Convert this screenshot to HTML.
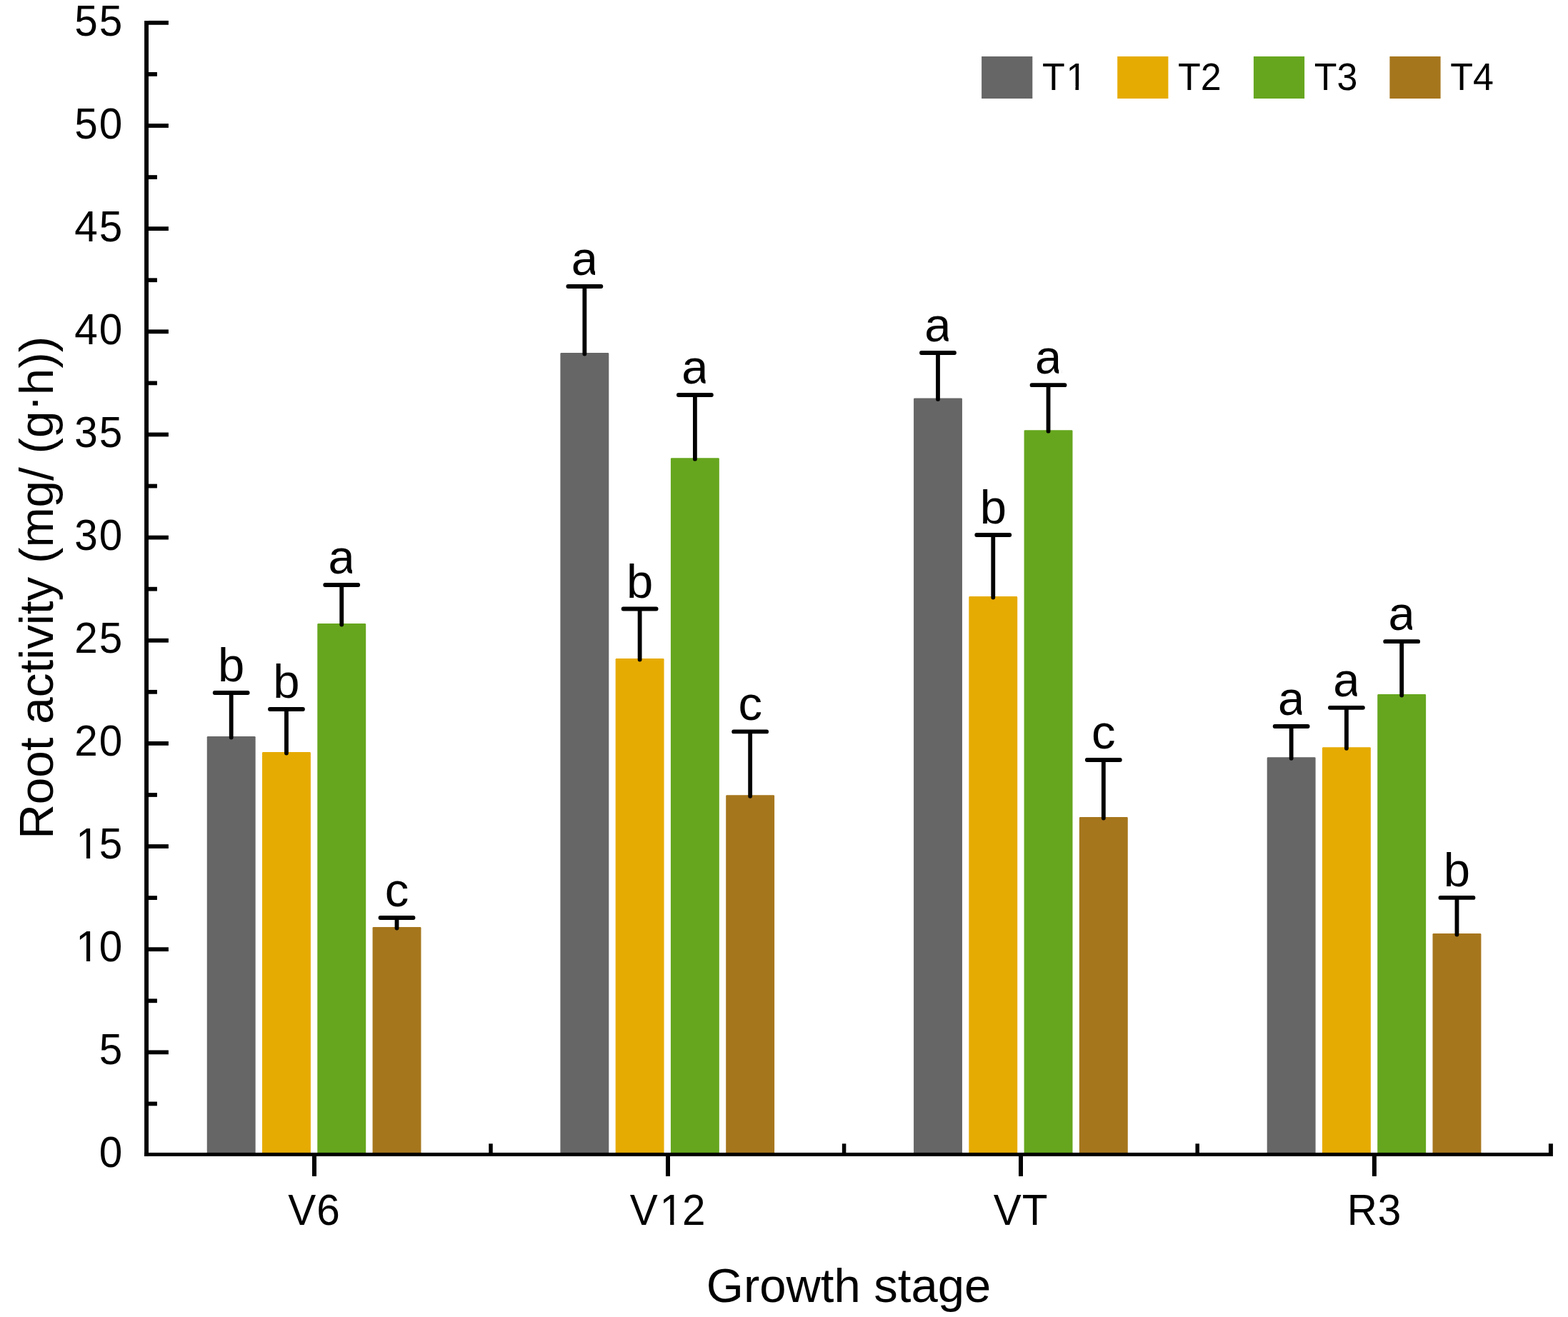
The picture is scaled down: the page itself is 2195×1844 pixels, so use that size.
<!DOCTYPE html>
<html><head><meta charset="utf-8"><title>Root activity by growth stage</title>
<style>
html,body{margin:0;padding:0;background:#fff;}
body{width:2195px;height:1844px;overflow:hidden;}
svg{display:block;}
</style></head><body>
<svg width="2195" height="1844" viewBox="0 0 2195 1844">
<rect x="0" y="0" width="2195" height="1844" fill="#fff"/>
<rect x="289.75" y="1031.00" width="67.9" height="585.90" rx="1.3" fill="#666666"/>
<rect x="367.02" y="1053.10" width="67.9" height="563.80" rx="1.3" fill="#E6AB02"/>
<rect x="444.29" y="873.10" width="67.9" height="743.80" rx="1.3" fill="#66A61E"/>
<rect x="521.56" y="1298.00" width="67.9" height="318.90" rx="1.3" fill="#A6761D"/>
<rect x="784.40" y="494.10" width="67.9" height="1122.80" rx="1.3" fill="#666666"/>
<rect x="861.67" y="922.00" width="67.9" height="694.90" rx="1.3" fill="#E6AB02"/>
<rect x="938.94" y="641.20" width="67.9" height="975.70" rx="1.3" fill="#66A61E"/>
<rect x="1016.21" y="1113.30" width="67.9" height="503.60" rx="1.3" fill="#A6761D"/>
<rect x="1279.05" y="557.40" width="67.9" height="1059.50" rx="1.3" fill="#666666"/>
<rect x="1356.32" y="835.10" width="67.9" height="781.80" rx="1.3" fill="#E6AB02"/>
<rect x="1433.59" y="602.20" width="67.9" height="1014.70" rx="1.3" fill="#66A61E"/>
<rect x="1510.86" y="1144.10" width="67.9" height="472.80" rx="1.3" fill="#A6761D"/>
<rect x="1773.70" y="1060.30" width="67.9" height="556.60" rx="1.3" fill="#666666"/>
<rect x="1850.97" y="1046.30" width="67.9" height="570.60" rx="1.3" fill="#E6AB02"/>
<rect x="1928.24" y="972.10" width="67.9" height="644.80" rx="1.3" fill="#66A61E"/>
<rect x="2005.51" y="1307.00" width="67.9" height="309.90" rx="1.3" fill="#A6761D"/>
<g stroke="#000" stroke-width="5.8" stroke-linecap="round" fill="none">
<path d="M323.70 1032.50V970.00M300.70 970.00H346.70"/>
<path d="M400.97 1054.60V993.00M377.97 993.00H423.97"/>
<path d="M478.24 874.60V819.00M455.24 819.00H501.24"/>
<path d="M555.51 1299.50V1285.00M532.51 1285.00H578.51"/>
<path d="M818.35 495.60V401.00M795.35 401.00H841.35"/>
<path d="M895.62 923.50V852.50M872.62 852.50H918.62"/>
<path d="M972.89 642.70V553.00M949.89 553.00H995.89"/>
<path d="M1050.16 1114.80V1024.40M1027.16 1024.40H1073.16"/>
<path d="M1313.00 558.90V494.00M1290.00 494.00H1336.00"/>
<path d="M1390.27 836.60V749.00M1367.27 749.00H1413.27"/>
<path d="M1467.54 603.70V539.20M1444.54 539.20H1490.54"/>
<path d="M1544.81 1145.60V1064.00M1521.81 1064.00H1567.81"/>
<path d="M1807.65 1061.80V1017.00M1784.65 1017.00H1830.65"/>
<path d="M1884.92 1047.80V990.80M1861.92 990.80H1907.92"/>
<path d="M1962.19 973.60V898.20M1939.19 898.20H1985.19"/>
<path d="M2039.46 1308.50V1256.90M2016.46 1256.90H2062.46"/>
</g>
<g font-family='"Liberation Sans", Arial, sans-serif' font-size="67" text-anchor="middle" fill="#000">
<text x="323.70" y="954.00">b</text>
<text x="400.97" y="977.00">b</text>
<text x="478.24" y="803.00">a</text>
<text x="555.51" y="1269.00">c</text>
<text x="818.35" y="385.00">a</text>
<text x="895.62" y="836.50">b</text>
<text x="972.89" y="537.00">a</text>
<text x="1050.16" y="1008.40">c</text>
<text x="1313.00" y="478.00">a</text>
<text x="1390.27" y="733.00">b</text>
<text x="1467.54" y="523.20">a</text>
<text x="1544.81" y="1048.00">c</text>
<text x="1807.65" y="1001.00">a</text>
<text x="1884.92" y="974.80">a</text>
<text x="1962.19" y="882.20">a</text>
<text x="2039.46" y="1240.90">b</text>
</g>
<rect x="492.91" y="793.51" width="4.58" height="10.47" fill="#fff"/>
<rect x="833.02" y="375.51" width="4.58" height="10.47" fill="#fff"/>
<rect x="987.56" y="527.51" width="4.58" height="10.47" fill="#fff"/>
<rect x="1327.67" y="468.51" width="4.58" height="10.47" fill="#fff"/>
<rect x="1482.21" y="513.71" width="4.58" height="10.47" fill="#fff"/>
<rect x="1822.32" y="991.51" width="4.58" height="10.47" fill="#fff"/>
<rect x="1899.59" y="965.31" width="4.58" height="10.47" fill="#fff"/>
<rect x="1976.86" y="872.71" width="4.58" height="10.47" fill="#fff"/>
<rect x="202.1" y="29.1" width="5.90" height="1589.80" fill="#000"/>
<rect x="202.1" y="1613.9" width="1971.80" height="5.00" fill="#000"/>
<rect x="208.0" y="1542.52" width="11.90" height="5.8" fill="#000"/>
<rect x="208.0" y="1470.45" width="27.90" height="5.8" fill="#000"/>
<rect x="208.0" y="1398.38" width="11.90" height="5.8" fill="#000"/>
<rect x="208.0" y="1326.30" width="27.90" height="5.8" fill="#000"/>
<rect x="208.0" y="1254.22" width="11.90" height="5.8" fill="#000"/>
<rect x="208.0" y="1182.15" width="27.90" height="5.8" fill="#000"/>
<rect x="208.0" y="1110.07" width="11.90" height="5.8" fill="#000"/>
<rect x="208.0" y="1038.00" width="27.90" height="5.8" fill="#000"/>
<rect x="208.0" y="965.93" width="11.90" height="5.8" fill="#000"/>
<rect x="208.0" y="893.85" width="27.90" height="5.8" fill="#000"/>
<rect x="208.0" y="821.78" width="11.90" height="5.8" fill="#000"/>
<rect x="208.0" y="749.70" width="27.90" height="5.8" fill="#000"/>
<rect x="208.0" y="677.63" width="11.90" height="5.8" fill="#000"/>
<rect x="208.0" y="605.55" width="27.90" height="5.8" fill="#000"/>
<rect x="208.0" y="533.48" width="11.90" height="5.8" fill="#000"/>
<rect x="208.0" y="461.40" width="27.90" height="5.8" fill="#000"/>
<rect x="208.0" y="389.33" width="11.90" height="5.8" fill="#000"/>
<rect x="208.0" y="317.25" width="27.90" height="5.8" fill="#000"/>
<rect x="208.0" y="245.18" width="11.90" height="5.8" fill="#000"/>
<rect x="208.0" y="173.10" width="27.90" height="5.8" fill="#000"/>
<rect x="208.0" y="101.03" width="11.90" height="5.8" fill="#000"/>
<rect x="208.0" y="28.95" width="27.90" height="5.8" fill="#000"/>
<g font-family='"Liberation Sans", Arial, sans-serif' fill="#000" style="font-kerning:none">
<text transform="translate(138.67 1634.30) scale(1 1.041)" font-size="58.5">0</text>
<text transform="translate(138.67 1490.23) scale(1 1.041)" font-size="58.5">5</text>
<text transform="translate(104.33 1346.17) scale(1 1.041)" font-size="58.5"><tspan dx="1.94">1</tspan><tspan dx="-0.14">0</tspan></text>
<rect x="109.43" y="1340.92" width="11.55" height="6.75" fill="#fff"/>
<rect x="126.15" y="1340.92" width="11.10" height="6.75" fill="#fff"/>
<text transform="translate(104.33 1202.11) scale(1 1.041)" font-size="58.5"><tspan dx="1.94">1</tspan><tspan dx="-0.14">5</tspan></text>
<rect x="109.43" y="1196.86" width="11.55" height="6.75" fill="#fff"/>
<rect x="126.15" y="1196.86" width="11.10" height="6.75" fill="#fff"/>
<text transform="translate(104.33 1058.04) scale(1 1.041)" font-size="58.5">2<tspan dx="1.80">0</tspan></text>
<text transform="translate(104.33 913.98) scale(1 1.041)" font-size="58.5">2<tspan dx="1.80">5</tspan></text>
<text transform="translate(104.33 769.91) scale(1 1.041)" font-size="58.5">3<tspan dx="1.80">0</tspan></text>
<text transform="translate(104.33 625.85) scale(1 1.041)" font-size="58.5">3<tspan dx="1.80">5</tspan></text>
<text transform="translate(104.33 481.78) scale(1 1.041)" font-size="58.5">4<tspan dx="1.80">0</tspan></text>
<text transform="translate(104.33 337.71) scale(1 1.041)" font-size="58.5">4<tspan dx="1.80">5</tspan></text>
<text transform="translate(104.33 193.65) scale(1 1.041)" font-size="58.5">5<tspan dx="1.80">0</tspan></text>
<text transform="translate(104.33 49.59) scale(1 1.041)" font-size="58.5">5<tspan dx="1.80">5</tspan></text>
</g>
<rect x="437.00" y="1618.40" width="6.0" height="28.50" fill="#000"/>
<rect x="932.00" y="1618.40" width="6.0" height="28.50" fill="#000"/>
<rect x="1426.00" y="1618.40" width="6.0" height="28.50" fill="#000"/>
<rect x="1920.90" y="1618.40" width="6.0" height="28.50" fill="#000"/>
<rect x="684.25" y="1601.3" width="5.5" height="13.10" fill="#000"/>
<rect x="1178.85" y="1601.3" width="5.5" height="13.10" fill="#000"/>
<rect x="1673.45" y="1601.3" width="5.5" height="13.10" fill="#000"/>
<rect x="2167.90" y="1601.3" width="6.0" height="13.10" fill="#000"/>
<g font-family='"Liberation Sans", Arial, sans-serif' fill="#000" style="font-kerning:none">
<text transform="translate(403.37 1714.60) scale(1 1.041)" font-size="58.5">V<tspan dx="0.90">6</tspan></text>
<text transform="translate(881.66 1714.60) scale(1 1.041)" font-size="58.5">V<tspan dx="2.84">1</tspan><tspan dx="-1.04">2</tspan></text>
<rect x="926.67" y="1709.35" width="11.55" height="6.75" fill="#fff"/>
<rect x="943.40" y="1709.35" width="11.10" height="6.75" fill="#fff"/>
<text transform="translate(1390.77 1714.60) scale(1 1.041)" font-size="58.5">V<tspan dx="0.90">T</tspan></text>
<text transform="translate(1885.66 1714.60) scale(1 1.041)" font-size="58.5">R<tspan dx="0.90">3</tspan></text>
</g>
<text x="1188" y="1822.9" font-family='"Liberation Sans", Arial, sans-serif' font-size="67" text-anchor="middle" fill="#000" style="font-kerning:none">Growth stage</text>
<text transform="translate(74.3 822.8) rotate(-90)" x="0" y="0" font-family='"Liberation Sans", Arial, sans-serif' font-size="67.4" text-anchor="middle" fill="#000" style="font-kerning:none">Root activity (mg/ (g<tspan dy="-6">·</tspan><tspan dy="6">h))</tspan></text>
<g font-family='"Liberation Sans", Arial, sans-serif' fill="#000" style="font-kerning:none">
<rect x="1374.1" y="79" width="71.2" height="59" fill="#666666"/>
<text transform="translate(1458.90 125.90) scale(1 1.041)" font-size="52">T<tspan dx="1.73">1</tspan></text>
<rect x="1495.05" y="121.16" width="10.42" height="6.24" fill="#fff"/>
<rect x="1510.06" y="121.16" width="10.01" height="6.24" fill="#fff"/>
<rect x="1564.2" y="79" width="71.2" height="59" fill="#E6AB02"/>
<text transform="translate(1649.00 125.90) scale(1 1.041)" font-size="52">T2</text>
<rect x="1754.9" y="79" width="71.2" height="59" fill="#66A61E"/>
<text transform="translate(1839.70 125.90) scale(1 1.041)" font-size="52">T3</text>
<rect x="1945.4" y="79" width="71.2" height="59" fill="#A6761D"/>
<text transform="translate(2030.20 125.90) scale(1 1.041)" font-size="52">T4</text>
</g>
</svg>
</body></html>
